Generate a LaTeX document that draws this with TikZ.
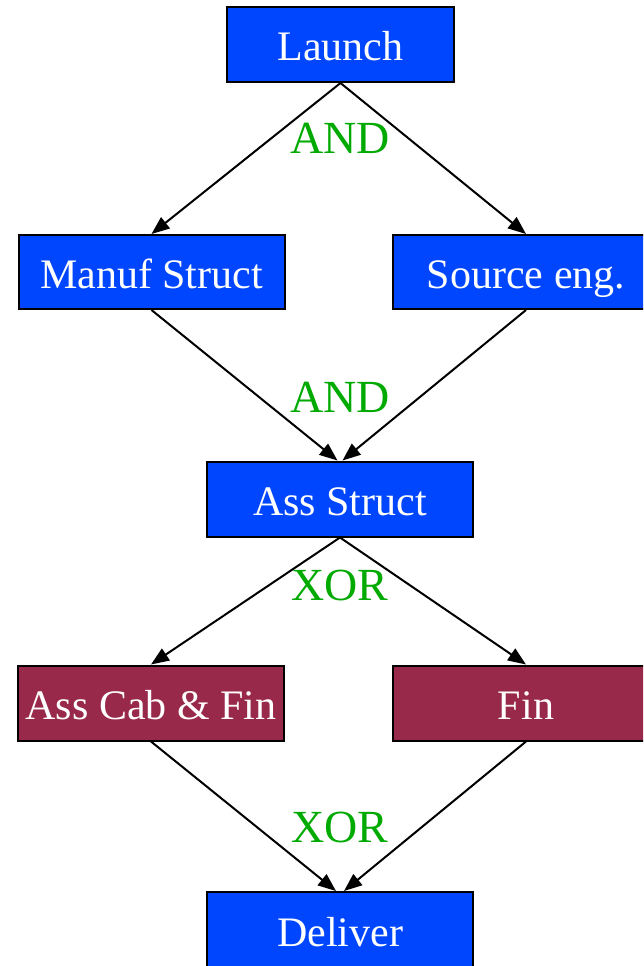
\documentclass[tikz,border=0pt]{standalone}
\usepackage{fontspec}
\setmainfont{Liberation Serif}
\usetikzlibrary{arrows.meta}

\definecolor{taskblue}{RGB}{0,70,255}
\definecolor{taskred}{RGB}{153,41,75}
\definecolor{gategreen}{RGB}{0,170,0}

\tikzset{
  taskbox/.style={draw=black, line width=2pt, minimum width=266pt, minimum height=75pt,
    inner sep=0pt, text=white, font=\fontsize{42}{50}\selectfont,
    text height=33pt, text depth=0pt},
  bluebox/.style={taskbox, fill=taskblue},
  redbox/.style={taskbox, fill=taskred},
  gate/.style={text=gategreen, font=\fontsize{46}{54}\selectfont, anchor=base, inner sep=0pt},
  flow/.style={draw=black, line width=2pt, -{Triangle[length=18pt,width=14pt]}}
}

\begin{document}
\begin{tikzpicture}[x=1pt,y=-1pt]
\useasboundingbox (0,0) rectangle (643,966);
\clip (0,0) rectangle (643,966);

% tasks
\node[bluebox, minimum width=227pt] (launch) at (340.5,44.5) {Launch};
\node[bluebox, minimum height=74pt] (manuf) at (151.5,272) {Manuf Struct};
\node[bluebox, minimum height=74pt] (source) at (526,272) {Source eng.};
\node[bluebox] (assstruct) at (340,499) {Ass Struct};
\node[redbox] (asscab) at (151,703) {Ass Cab \& Fin};
\node[redbox] (fin) at (526,703) {Fin};
\node[bluebox] (deliver) at (340,929.5) {Deliver};

% gate labels
\node[gate] (and1) at (340,153) {AND};
\node[gate] (and2) at (340,412) {AND};
\node[gate] (xor1) at (340,600) {XOR};
\node[gate] (xor2) at (340,842) {XOR};

% flows
\draw[flow] (launch.south) -- (manuf.north);
\draw[flow] (launch.south) -- (source.north);
\draw[flow] (manuf.south) -- ([xshift=-2.5pt]assstruct.north);
\draw[flow] (source.south) -- ([xshift=2.5pt]assstruct.north);
\draw[flow] (assstruct.south) -- (asscab.north);
\draw[flow] (assstruct.south) -- (fin.north);
\draw[flow] (asscab.south) -- ([xshift=-4pt]deliver.north);
\draw[flow] (fin.south) -- ([xshift=4pt]deliver.north);
\end{tikzpicture}
\end{document}
